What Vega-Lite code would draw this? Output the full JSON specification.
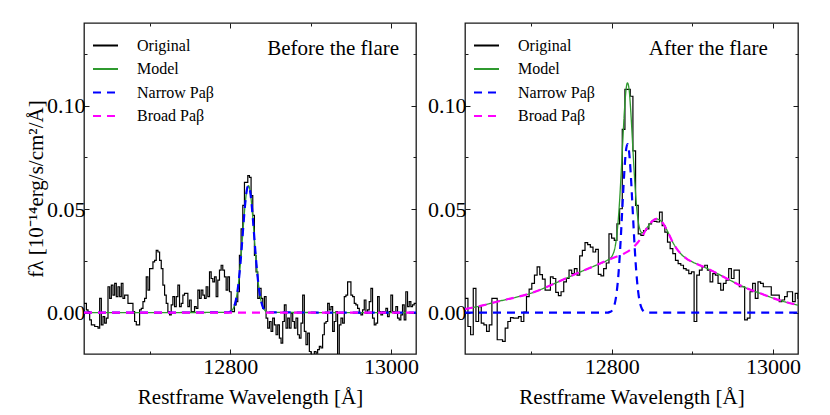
{
  "$schema": "https://vega.github.io/schema/vega-lite/v6.json",
  "background": "white",
  "padding": {"left": 24, "top": 21, "right": 5, "bottom": 5},
  "datasets": {
    "before_orig": [
      {"w":12617.8,"f":0.0045},{"w":12619.9,"f":0.0045},{"w":12622.0,"f":0.0013},{"w":12624.0,"f":0.0005},{"w":12626.1,"f":-0.0035},
      {"w":12628.2,"f":-0.0059},{"w":12630.3,"f":-0.0059},{"w":12632.3,"f":-0.0067},{"w":12634.4,"f":-0.0067},{"w":12636.5,"f":-0.0075},
      {"w":12638.5,"f":0.0069},{"w":12640.6,"f":-0.0059},{"w":12642.7,"f":-0.0019},{"w":12644.7,"f":-0.0051},{"w":12646.8,"f":-0.0027},
      {"w":12648.9,"f":0.0125},{"w":12651.0,"f":0.0069},{"w":12653.0,"f":0.0133},{"w":12655.1,"f":0.0085},{"w":12657.2,"f":0.0141},
      {"w":12659.2,"f":0.0077},{"w":12661.3,"f":0.0125},{"w":12663.4,"f":0.0077},{"w":12665.4,"f":0.0141},{"w":12667.5,"f":0.0069},
      {"w":12669.6,"f":0.0085},{"w":12671.7,"f":0.0085},{"w":12673.7,"f":0.0045},{"w":12675.8,"f":0.0045},{"w":12677.9,"f":0.0045},
      {"w":12679.9,"f":0.0005},{"w":12682.0,"f":-0.0043},{"w":12684.1,"f":-0.0059},{"w":12686.1,"f":-0.0059},{"w":12688.2,"f":0.0013},
      {"w":12690.3,"f":0.0021},{"w":12692.4,"f":0.0053},{"w":12694.4,"f":0.0069},{"w":12696.5,"f":0.0173},{"w":12698.6,"f":0.0109},
      {"w":12700.6,"f":0.0213},{"w":12702.7,"f":0.0213},{"w":12704.8,"f":0.0245},{"w":12706.8,"f":0.0253},{"w":12708.9,"f":0.0301},
      {"w":12711.0,"f":0.0293},{"w":12713.1,"f":0.0253},{"w":12715.1,"f":0.0213},{"w":12717.2,"f":0.0133},{"w":12719.3,"f":0.0085},
      {"w":12721.3,"f":0.0045},{"w":12723.4,"f":0.0005},{"w":12725.5,"f":-0.0011},{"w":12727.5,"f":0.0037},{"w":12729.6,"f":0.0077},
      {"w":12731.7,"f":0.0029},{"w":12733.8,"f":0.0077},{"w":12735.8,"f":0.0133},{"w":12737.9,"f":0.0029},{"w":12740.0,"f":0.0045},
      {"w":12742.0,"f":0.0085},{"w":12744.1,"f":0.0093},{"w":12746.2,"f":0.0093},{"w":12748.2,"f":0.0029},{"w":12750.3,"f":0.0061},
      {"w":12752.4,"f":0.0005},{"w":12754.5,"f":0.0005},{"w":12756.5,"f":0.0029},{"w":12758.6,"f":0.0021},{"w":12760.7,"f":0.0109},
      {"w":12762.7,"f":0.0069},{"w":12764.8,"f":0.0109},{"w":12766.9,"f":0.0085},{"w":12768.9,"f":0.0069},{"w":12771.0,"f":0.0125},
      {"w":12773.1,"f":0.0077},{"w":12775.2,"f":0.0197},{"w":12777.2,"f":0.0165},{"w":12779.3,"f":0.0149},{"w":12781.4,"f":0.0173},
      {"w":12783.4,"f":0.0077},{"w":12785.5,"f":0.0157},{"w":12787.6,"f":0.0205},{"w":12789.6,"f":0.0229},{"w":12791.7,"f":0.0205},
      {"w":12793.8,"f":0.0173},{"w":12795.9,"f":0.0109},{"w":12797.9,"f":0.0173},{"w":12800.0,"f":0.0101},{"w":12802.1,"f":0.0005},
      {"w":12804.1,"f":0.0005},{"w":12806.2,"f":0.0037},{"w":12808.3,"f":0.0053},{"w":12810.3,"f":0.0101},{"w":12812.4,"f":0.0277},
      {"w":12814.5,"f":0.0405},{"w":12816.6,"f":0.0518},{"w":12818.6,"f":0.0630},{"w":12820.7,"f":0.0630},{"w":12822.8,"f":0.0662},
      {"w":12824.8,"f":0.0654},{"w":12826.9,"f":0.0566},{"w":12829.0,"f":0.0470},{"w":12831.0,"f":0.0277},{"w":12833.1,"f":0.0197},
      {"w":12835.2,"f":0.0069},{"w":12837.3,"f":0.0117},{"w":12839.3,"f":0.0069},{"w":12841.4,"f":0.0021},{"w":12843.5,"f":0.0077},
      {"w":12845.5,"f":-0.0027},{"w":12847.6,"f":-0.0075},{"w":12849.7,"f":-0.0043},{"w":12851.7,"f":-0.0091},{"w":12853.8,"f":-0.0027},
      {"w":12855.9,"f":-0.0059},{"w":12858.0,"f":-0.0107},{"w":12860.0,"f":-0.0059},{"w":12862.1,"f":-0.0123},{"w":12864.2,"f":-0.0147},
      {"w":12866.2,"f":-0.0043},{"w":12868.3,"f":0.0037},{"w":12870.4,"f":-0.0075},{"w":12872.4,"f":-0.0027},{"w":12874.5,"f":-0.0075},
      {"w":12876.6,"f":-0.0003},{"w":12878.7,"f":-0.0043},{"w":12880.7,"f":-0.0075},{"w":12882.8,"f":-0.0027},{"w":12884.9,"f":-0.0107},
      {"w":12886.9,"f":-0.0123},{"w":12889.0,"f":-0.0051},{"w":12891.1,"f":0.0085},{"w":12893.1,"f":-0.0091},{"w":12895.2,"f":-0.0155},
      {"w":12897.3,"f":-0.0099},{"w":12899.4,"f":-0.0188},{"w":12901.4,"f":-0.0212},{"w":12903.5,"f":-0.0212},{"w":12905.6,"f":-0.0188},
      {"w":12907.6,"f":-0.0196},{"w":12909.7,"f":-0.0179},{"w":12911.8,"f":-0.0163},{"w":12913.8,"f":-0.0171},{"w":12915.9,"f":-0.0107},
      {"w":12918.0,"f":-0.0051},{"w":12920.1,"f":-0.0043},{"w":12922.1,"f":0.0045},{"w":12924.2,"f":0.0013},{"w":12926.3,"f":0.0029},
      {"w":12928.3,"f":-0.0091},{"w":12930.4,"f":-0.0043},{"w":12932.5,"f":0.0005},{"w":12934.5,"f":-0.0220},{"w":12936.6,"f":-0.0059},
      {"w":12938.7,"f":-0.0027},{"w":12940.8,"f":-0.0051},{"w":12942.8,"f":0.0077},{"w":12944.9,"f":0.0085},{"w":12947.0,"f":0.0149},
      {"w":12949.0,"f":0.0149},{"w":12951.1,"f":0.0085},{"w":12953.2,"f":0.0077},{"w":12955.2,"f":0.0045},{"w":12957.3,"f":0.0037},
      {"w":12959.4,"f":0.0021},{"w":12961.5,"f":-0.0003},{"w":12963.5,"f":-0.0011},{"w":12965.6,"f":0.0013},{"w":12967.7,"f":0.0061},
      {"w":12969.7,"f":-0.0003},{"w":12971.8,"f":0.0013},{"w":12973.9,"f":0.0053},{"w":12975.9,"f":0.0117},{"w":12978.0,"f":-0.0027},
      {"w":12980.1,"f":-0.0059},{"w":12982.2,"f":-0.0051},{"w":12984.2,"f":0.0077},{"w":12986.3,"f":0.0005},{"w":12988.4,"f":-0.0011},
      {"w":12990.4,"f":0.0005},{"w":12992.5,"f":-0.0003},{"w":12994.6,"f":0.0021},{"w":12996.6,"f":-0.0019},{"w":12998.7,"f":0.0005},
      {"w":13000.8,"f":0.0085},{"w":13002.9,"f":0.0005},{"w":13004.9,"f":-0.0003},{"w":13007.0,"f":0.0029},{"w":13009.1,"f":-0.0027},
      {"w":13011.1,"f":-0.0035},{"w":13013.2,"f":-0.0011},{"w":13015.3,"f":0.0037},{"w":13017.3,"f":-0.0035},{"w":13019.4,"f":0.0101},
      {"w":13021.5,"f":0.0029},{"w":13023.6,"f":0.0053},{"w":13025.6,"f":0.0029},{"w":13027.7,"f":0.0037},{"w":13029.8,"f":0.0045},
      {"w":13031.8,"f":0.0045}
    ],
    "before_narrow": [
      {"w":12618,"f":0},{"w":12797.5,"f":0.0001},{"w":12800.5,"f":0.0006},{"w":12802.5,"f":0.0013},{"w":12804.5,"f":0.0027},
      {"w":12806.5,"f":0.0052},{"w":12808.5,"f":0.0093},{"w":12810.5,"f":0.0153},{"w":12812.5,"f":0.0234},{"w":12814.5,"f":0.0331},
      {"w":12816.5,"f":0.0434},{"w":12818.5,"f":0.0526},{"w":12820.5,"f":0.0591},{"w":12822.5,"f":0.0614},{"w":12824.5,"f":0.0591},
      {"w":12826.5,"f":0.0526},{"w":12828.5,"f":0.0434},{"w":12830.5,"f":0.0331},{"w":12832.5,"f":0.0234},{"w":12834.5,"f":0.0153},
      {"w":12836.5,"f":0.0093},{"w":12838.5,"f":0.0052},{"w":12840.5,"f":0.0027},{"w":12842.5,"f":0.0013},{"w":12844.5,"f":0.0006},
      {"w":12847.5,"f":0.0001},{"w":13031,"f":0}
    ],
    "before_broad": [{"w":12618,"f":0},{"w":13031,"f":0}],
    "before_label": [{"w":12846,"f":0.1245,"t":"Before the flare"}],
    "after_orig": [
      {"w":12616.7,"f":0.0069},{"w":12620.0,"f":0.0069},{"w":12623.3,"f":-0.0067},{"w":12626.6,"f":-0.0107},{"w":12629.9,"f":0.0117},
      {"w":12633.2,"f":-0.0043},{"w":12636.5,"f":0.0029},{"w":12639.8,"f":-0.0051},{"w":12643.1,"f":-0.0059},{"w":12646.4,"f":-0.0091},
      {"w":12649.7,"f":-0.0059},{"w":12653.0,"f":0.0069},{"w":12656.3,"f":0.0069},{"w":12659.6,"f":-0.0131},{"w":12662.9,"f":-0.0131},
      {"w":12666.2,"f":-0.0139},{"w":12669.5,"f":-0.0075},{"w":12672.8,"f":-0.0043},{"w":12676.1,"f":-0.0024},{"w":12679.4,"f":-0.0027},
      {"w":12682.7,"f":-0.0027},{"w":12686.0,"f":-0.0019},{"w":12689.3,"f":-0.0043},{"w":12692.6,"f":0.0002},{"w":12695.9,"f":0.0077},
      {"w":12699.2,"f":0.0114},{"w":12702.5,"f":0.0141},{"w":12705.8,"f":0.0181},{"w":12709.1,"f":0.0221},{"w":12712.4,"f":0.0184},
      {"w":12715.7,"f":0.0162},{"w":12719.0,"f":0.0109},{"w":12722.3,"f":0.0109},{"w":12725.6,"f":0.0173},{"w":12728.9,"f":0.0165},
      {"w":12732.2,"f":0.0098},{"w":12735.5,"f":0.0082},{"w":12738.8,"f":0.0101},{"w":12742.1,"f":0.0149},{"w":12745.4,"f":0.0165},
      {"w":12748.7,"f":0.0205},{"w":12752.0,"f":0.0189},{"w":12755.3,"f":0.0213},{"w":12758.6,"f":0.0181},{"w":12761.9,"f":0.0274},
      {"w":12765.2,"f":0.0301},{"w":12768.5,"f":0.0338},{"w":12771.8,"f":0.0329},{"w":12775.1,"f":0.0317},{"w":12778.4,"f":0.0293},
      {"w":12781.7,"f":0.0306},{"w":12785.0,"f":0.0185},{"w":12788.3,"f":0.0178},{"w":12791.6,"f":0.0213},{"w":12794.9,"f":0.0240},
      {"w":12798.2,"f":0.0381},{"w":12801.5,"f":0.0360},{"w":12804.8,"f":0.0349},{"w":12808.1,"f":0.0429},{"w":12811.4,"f":0.0502},
      {"w":12814.7,"f":0.0886},{"w":12818.0,"f":0.1079},{"w":12821.3,"f":0.1079},{"w":12824.6,"f":0.1046},{"w":12827.9,"f":0.0782},
      {"w":12831.2,"f":0.0518},{"w":12834.5,"f":0.0381},{"w":12837.8,"f":0.0373},{"w":12841.1,"f":0.0397},{"w":12844.4,"f":0.0405},
      {"w":12847.7,"f":0.0429},{"w":12851.0,"f":0.0441},{"w":12854.3,"f":0.0441},{"w":12857.6,"f":0.0438},{"w":12860.9,"f":0.0486},
      {"w":12864.2,"f":0.0421},{"w":12867.5,"f":0.0389},{"w":12870.8,"f":0.0341},{"w":12874.1,"f":0.0309},{"w":12877.4,"f":0.0285},
      {"w":12880.7,"f":0.0253},{"w":12884.0,"f":0.0237},{"w":12887.3,"f":0.0229},{"w":12890.6,"f":0.0213},{"w":12893.9,"f":0.0205},
      {"w":12897.2,"f":0.0189},{"w":12900.5,"f":0.0197},{"w":12903.8,"f":-0.0043},{"w":12907.1,"f":0.0181},{"w":12910.4,"f":0.0205},
      {"w":12913.7,"f":0.0221},{"w":12917.0,"f":0.0229},{"w":12920.3,"f":0.0205},{"w":12923.6,"f":0.0149},{"w":12926.9,"f":0.0189},
      {"w":12930.2,"f":0.0181},{"w":12933.5,"f":0.0141},{"w":12936.8,"f":0.0109},{"w":12940.1,"f":0.0141},{"w":12943.4,"f":0.0157},
      {"w":12946.7,"f":0.0213},{"w":12950.0,"f":0.0165},{"w":12953.3,"f":0.0205},{"w":12956.6,"f":0.0205},{"w":12959.9,"f":0.0125},
      {"w":12963.2,"f":0.0125},{"w":12966.5,"f":-0.0035},{"w":12969.8,"f":-0.0027},{"w":12973.1,"f":0.0101},{"w":12976.4,"f":0.0141},
      {"w":12979.7,"f":0.0069},{"w":12983.0,"f":0.0149},{"w":12986.3,"f":0.0141},{"w":12989.6,"f":0.0125},{"w":12992.9,"f":0.0125},
      {"w":12996.2,"f":0.0125},{"w":12999.5,"f":0.0085},{"w":13002.8,"f":0.0085},{"w":13006.1,"f":0.0085},{"w":13009.4,"f":0.0053},
      {"w":13012.7,"f":0.0061},{"w":13016.0,"f":0.0077},{"w":13019.3,"f":0.0101},{"w":13022.6,"f":0.0101},{"w":13025.9,"f":0.0053},
      {"w":13029.2,"f":0.0093},{"w":13032.5,"f":0.0069}
    ],
    "after_model": [
      {"w":12618,"f":0.0017},{"w":12640,"f":0.0035},{"w":12660,"f":0.0055},{"w":12680,"f":0.0073},{"w":12700,"f":0.0094},
      {"w":12720,"f":0.0125},{"w":12740,"f":0.016},{"w":12760,"f":0.0195},{"w":12780,"f":0.0228},{"w":12794,"f":0.0252},
      {"w":12797.5,"f":0.0261},{"w":12799.5,"f":0.0268},{"w":12801.5,"f":0.0282},{"w":12803.5,"f":0.0306},{"w":12805.5,"f":0.035},
      {"w":12807.5,"f":0.0422},{"w":12809.5,"f":0.0526},{"w":12811.5,"f":0.0662},{"w":12813.5,"f":0.0815},{"w":12815.5,"f":0.096},
      {"w":12817.5,"f":0.1069},{"w":12819.5,"f":0.1111},{"w":12821.5,"f":0.1079},{"w":12823.5,"f":0.098},{"w":12825.5,"f":0.0844},
      {"w":12827.5,"f":0.0702},{"w":12829.5,"f":0.0577},{"w":12831.5,"f":0.0484},{"w":12833.5,"f":0.0426},{"w":12835.5,"f":0.0396},
      {"w":12837.5,"f":0.0386},{"w":12839.5,"f":0.0387},{"w":12841.5,"f":0.0398},{"w":12846,"f":0.0422},{"w":12850,"f":0.0441},
      {"w":12855,"f":0.0453},{"w":12859,"f":0.0449},{"w":12863,"f":0.0435},{"w":12867,"f":0.041},{"w":12871,"f":0.0378},
      {"w":12875,"f":0.0345},{"w":12880,"f":0.0312},{"w":12886,"f":0.0283},{"w":12893,"f":0.026},{"w":12900,"f":0.0245},
      {"w":12910,"f":0.0228},{"w":12927,"f":0.0197},{"w":12945,"f":0.016},{"w":12968,"f":0.0117},{"w":12985,"f":0.0092},
      {"w":13001,"f":0.0069},{"w":13015,"f":0.0052},{"w":13031,"f":0.0036}
    ],
    "after_narrow": [
      {"w":12618,"f":0},{"w":12795,"f":0},{"w":12797.5,"f":0.0003},{"w":12799.5,"f":0.0007},{"w":12801.5,"f":0.0018},
      {"w":12803.5,"f":0.0039},{"w":12805.5,"f":0.008},{"w":12807.5,"f":0.0148},{"w":12809.5,"f":0.0249},{"w":12811.5,"f":0.0382},
      {"w":12813.5,"f":0.0532},{"w":12815.5,"f":0.0674},{"w":12817.5,"f":0.0778},{"w":12819.5,"f":0.0815},{"w":12821.5,"f":0.0778},
      {"w":12823.5,"f":0.0674},{"w":12825.5,"f":0.0532},{"w":12827.5,"f":0.0382},{"w":12829.5,"f":0.0249},{"w":12831.5,"f":0.0148},
      {"w":12833.5,"f":0.008},{"w":12835.5,"f":0.0039},{"w":12837.5,"f":0.0018},{"w":12839.5,"f":0.0007},{"w":12841.5,"f":0.0003},
      {"w":12844,"f":0},{"w":13031,"f":0}
    ],
    "after_broad": [
      {"w":12618,"f":0.0017},{"w":12640,"f":0.0035},{"w":12660,"f":0.0055},{"w":12680,"f":0.0073},{"w":12700,"f":0.0094},
      {"w":12720,"f":0.0125},{"w":12740,"f":0.016},{"w":12760,"f":0.0195},{"w":12780,"f":0.0228},{"w":12800,"f":0.0262},
      {"w":12815,"f":0.0285},{"w":12825,"f":0.031},{"w":12832,"f":0.0338},{"w":12838,"f":0.037},{"w":12842,"f":0.0398},
      {"w":12846,"f":0.0422},{"w":12850,"f":0.0441},{"w":12855,"f":0.0453},{"w":12859,"f":0.0449},{"w":12863,"f":0.0435},
      {"w":12867,"f":0.041},{"w":12871,"f":0.0378},{"w":12875,"f":0.0345},{"w":12880,"f":0.0312},{"w":12886,"f":0.0283},
      {"w":12893,"f":0.026},{"w":12900,"f":0.0245},{"w":12910,"f":0.0228},{"w":12927,"f":0.0197},{"w":12945,"f":0.016},
      {"w":12968,"f":0.0117},{"w":12985,"f":0.0092},{"w":13001,"f":0.0069},{"w":13015,"f":0.0052},{"w":13031,"f":0.0036}
    ],
    "after_label": [{"w":12846,"f":0.1245,"t":"After the flare"}]
  },
  "spacing": 49,
  "bounds": "flush",
  "resolve": {"scale": {"color": "independent", "strokeDash": "independent"}},
  "hconcat": [
    {
      "width": 332,
      "height": 331,
      "layer": [
        {
          "data": {"name": "before_orig"},
          "mark": {"type": "line", "interpolate": "step", "strokeWidth": 1.2, "clip": true},
          "encoding": {
            "x": {"field": "w", "type": "quantitative", "scale": {"domain": [12618, 13031], "nice": false, "zero": false},
              "axis": {"orient": "bottom", "values": [12700, 12800, 12900, 13000], "format": "d", "labelFlush": false, "labelOverlap": false,
                "labelExpr": "datum.value % 200 == 0 ? datum.label : ''",
                "tickSize": {"condition": {"test": "datum.value % 200 == 0", "value": -5}, "value": -3},
                "labelPadding": 7, "title": "Restframe Wavelength [Å]", "titlePadding": 7}},
            "y": {"field": "f", "type": "quantitative", "scale": {"domain": [-0.02, 0.14], "nice": false, "zero": false},
              "axis": {"orient": "left", "values": [0, 0.025, 0.05, 0.075, 0.1, 0.125], "format": ".2f", "labelFlush": false, "labelOverlap": false,
                "labelExpr": "round(datum.value * 1000) % 50 == 0 ? datum.label : ''",
                "tickSize": {"condition": {"test": "round(datum.value * 1000) % 50 == 0", "value": -5}, "value": -3},
                "labelPadding": 4, "title": "fλ [10⁻¹⁴erg/s/cm²/Å]", "titlePadding": 0}},
            "color": {"datum": "Original", "type": "nominal",
              "scale": {"domain": ["Original", "Model", "Narrow Paβ", "Broad Paβ"], "range": ["#000000", "#2f9a2f", "#0000ff", "#ff00ff"]},
              "legend": {"title": null, "orient": "none", "legendX": 8, "legendY": 9}},
            "strokeDash": {"datum": "Original", "type": "nominal",
              "scale": {"domain": ["Original", "Model", "Narrow Paβ", "Broad Paβ"], "range": [[1, 0], [1, 0], [8, 6], [8, 6]]},
              "legend": {"title": null, "orient": "none", "legendX": 8, "legendY": 9}}
          }
        },
        {
          "data": {"name": "before_narrow"},
          "mark": {"type": "line", "interpolate": "monotone", "strokeWidth": 1.3, "clip": true},
          "encoding": {
            "x": {"field": "w", "type": "quantitative",
              "axis": {"orient": "top", "values": [12700, 12800, 12900, 13000], "labels": false, "title": null,
                "tickSize": {"condition": {"test": "datum.value % 200 == 0", "value": -5}, "value": -3}}},
            "y": {"field": "f", "type": "quantitative",
              "axis": {"orient": "right", "values": [0, 0.025, 0.05, 0.075, 0.1, 0.125], "labels": false, "title": null,
                "tickSize": {"condition": {"test": "round(datum.value * 1000) % 50 == 0", "value": -5}, "value": -3}}},
            "color": {"datum": "Model", "type": "nominal"},
            "strokeDash": {"datum": "Model", "type": "nominal"}
          }
        },
        {
          "data": {"name": "before_narrow"},
          "mark": {"type": "line", "interpolate": "monotone", "strokeWidth": 2.2, "clip": true},
          "encoding": {
            "x": {"field": "w", "type": "quantitative", "axis": null},
            "y": {"field": "f", "type": "quantitative", "axis": null},
            "color": {"datum": "Narrow Paβ", "type": "nominal"},
            "strokeDash": {"datum": "Narrow Paβ", "type": "nominal"}
          }
        },
        {
          "data": {"name": "before_broad"},
          "mark": {"type": "line", "strokeWidth": 2.2, "clip": true},
          "encoding": {
            "x": {"field": "w", "type": "quantitative", "axis": null},
            "y": {"field": "f", "type": "quantitative", "axis": null},
            "color": {"datum": "Broad Paβ", "type": "nominal"},
            "strokeDash": {"datum": "Broad Paβ", "type": "nominal"}
          }
        },
        {
          "data": {"name": "before_label"},
          "mark": {"type": "text", "align": "left", "baseline": "alphabetic", "fontSize": 21, "font": "Liberation Serif", "color": "#000"},
          "encoding": {
            "x": {"field": "w", "type": "quantitative", "axis": null},
            "y": {"field": "f", "type": "quantitative", "axis": null},
            "text": {"field": "t"}
          }
        }
      ],
      "resolve": {"axis": {"x": "independent", "y": "independent"}}
    },
    {
      "width": 333,
      "height": 331,
      "layer": [
        {
          "data": {"name": "after_orig"},
          "mark": {"type": "line", "interpolate": "step", "strokeWidth": 1.2, "clip": true},
          "encoding": {
            "x": {"field": "w", "type": "quantitative", "scale": {"domain": [12618, 13031], "nice": false, "zero": false},
              "axis": {"orient": "bottom", "values": [12700, 12800, 12900, 13000], "format": "d", "labelFlush": false, "labelOverlap": false,
                "labelExpr": "datum.value % 200 == 0 ? datum.label : ''",
                "tickSize": {"condition": {"test": "datum.value % 200 == 0", "value": -5}, "value": -3},
                "labelPadding": 7, "title": "Restframe Wavelength [Å]", "titlePadding": 7}},
            "y": {"field": "f", "type": "quantitative", "scale": {"domain": [-0.02, 0.14], "nice": false, "zero": false},
              "axis": {"orient": "left", "values": [0, 0.025, 0.05, 0.075, 0.1, 0.125], "format": ".2f", "labelFlush": false, "labelOverlap": false,
                "labelExpr": "round(datum.value * 1000) % 50 == 0 ? datum.label : ''",
                "tickSize": {"condition": {"test": "round(datum.value * 1000) % 50 == 0", "value": -5}, "value": -3},
                "labelPadding": 4, "title": null}},
            "color": {"datum": "Original", "type": "nominal",
              "scale": {"domain": ["Original", "Model", "Narrow Paβ", "Broad Paβ"], "range": ["#000000", "#2f9a2f", "#0000ff", "#ff00ff"]},
              "legend": {"title": null, "orient": "none", "legendX": 8, "legendY": 9}},
            "strokeDash": {"datum": "Original", "type": "nominal",
              "scale": {"domain": ["Original", "Model", "Narrow Paβ", "Broad Paβ"], "range": [[1, 0], [1, 0], [8, 6], [8, 6]]},
              "legend": {"title": null, "orient": "none", "legendX": 8, "legendY": 9}}
          }
        },
        {
          "data": {"name": "after_model"},
          "mark": {"type": "line", "interpolate": "monotone", "strokeWidth": 1.3, "clip": true},
          "encoding": {
            "x": {"field": "w", "type": "quantitative",
              "axis": {"orient": "top", "values": [12700, 12800, 12900, 13000], "labels": false, "title": null,
                "tickSize": {"condition": {"test": "datum.value % 200 == 0", "value": -5}, "value": -3}}},
            "y": {"field": "f", "type": "quantitative",
              "axis": {"orient": "right", "values": [0, 0.025, 0.05, 0.075, 0.1, 0.125], "labels": false, "title": null,
                "tickSize": {"condition": {"test": "round(datum.value * 1000) % 50 == 0", "value": -5}, "value": -3}}},
            "color": {"datum": "Model", "type": "nominal"},
            "strokeDash": {"datum": "Model", "type": "nominal"}
          }
        },
        {
          "data": {"name": "after_narrow"},
          "mark": {"type": "line", "interpolate": "monotone", "strokeWidth": 2.2, "clip": true},
          "encoding": {
            "x": {"field": "w", "type": "quantitative", "axis": null},
            "y": {"field": "f", "type": "quantitative", "axis": null},
            "color": {"datum": "Narrow Paβ", "type": "nominal"},
            "strokeDash": {"datum": "Narrow Paβ", "type": "nominal"}
          }
        },
        {
          "data": {"name": "after_broad"},
          "mark": {"type": "line", "interpolate": "monotone", "strokeWidth": 2.2, "clip": true},
          "encoding": {
            "x": {"field": "w", "type": "quantitative", "axis": null},
            "y": {"field": "f", "type": "quantitative", "axis": null},
            "color": {"datum": "Broad Paβ", "type": "nominal"},
            "strokeDash": {"datum": "Broad Paβ", "type": "nominal"}
          }
        },
        {
          "data": {"name": "after_label"},
          "mark": {"type": "text", "align": "left", "baseline": "alphabetic", "fontSize": 21, "font": "Liberation Serif", "color": "#000"},
          "encoding": {
            "x": {"field": "w", "type": "quantitative", "axis": null},
            "y": {"field": "f", "type": "quantitative", "axis": null},
            "text": {"field": "t"}
          }
        }
      ],
      "resolve": {"axis": {"x": "independent", "y": "independent"}}
    }
  ],
  "config": {
    "view": {"stroke": "#1a1a1a", "strokeWidth": 1.3},
    "axis": {"grid": false, "domain": false, "labelFont": "Liberation Serif", "labelFontSize": 22, "labelColor": "#000",
      "titleFont": "Liberation Serif", "titleFontSize": 21, "titleFontWeight": "normal", "titleColor": "#000",
      "tickColor": "#1a1a1a", "tickWidth": 1},
    "legend": {"symbolType": "stroke", "symbolSize": 625, "symbolStrokeWidth": 1.8, "labelFont": "Liberation Serif",
      "labelFontSize": 16, "labelColor": "#000", "labelOffset": 18, "rowPadding": 1.5, "padding": 0}
  }
}
